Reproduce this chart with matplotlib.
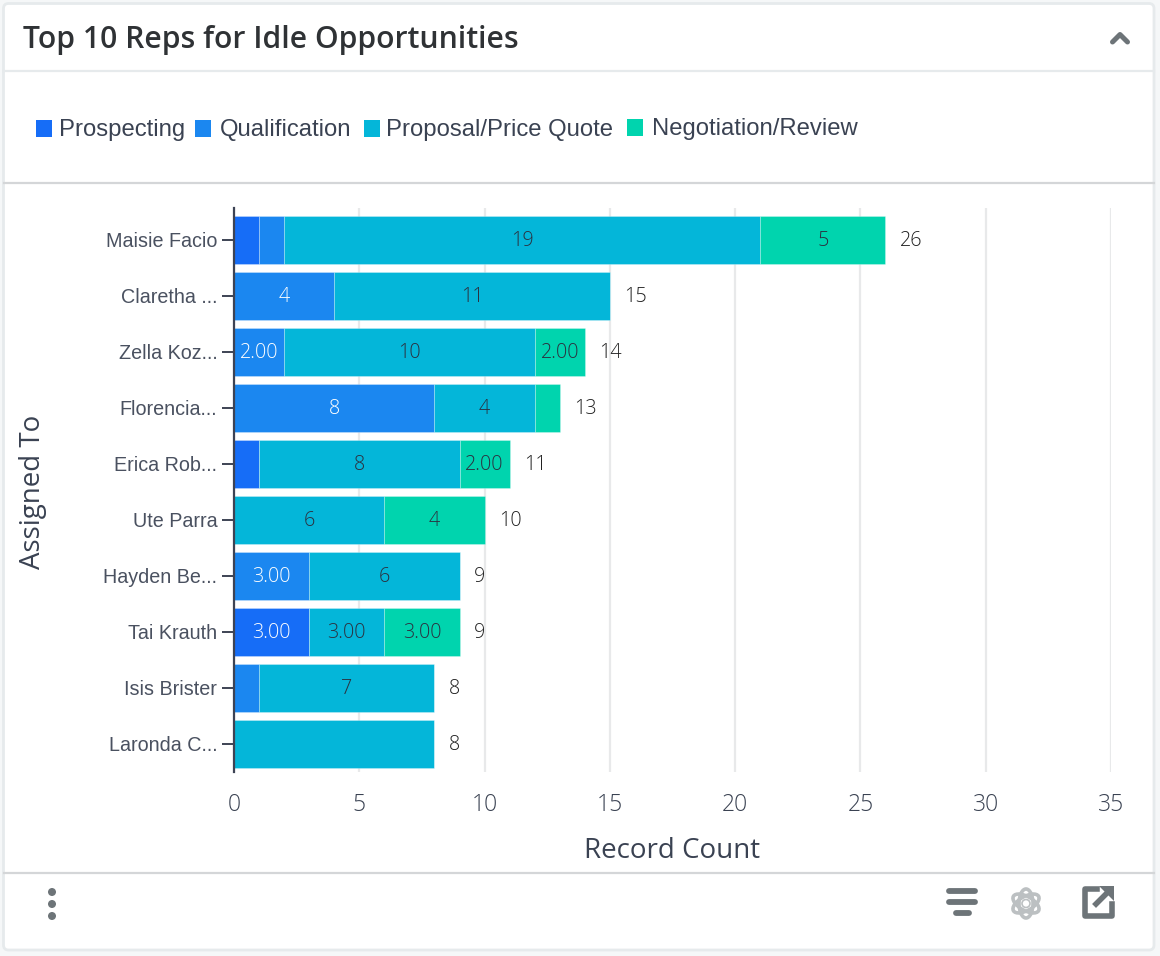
import matplotlib
matplotlib.use("Agg")
import matplotlib.pyplot as plt
from matplotlib.patches import FancyBboxPatch, Rectangle, Circle, Ellipse

reps = ["Maisie Facio", "Claretha ...", "Zella Koz...", "Florencia...", "Erica Rob...",
        "Ute Parra", "Hayden Be...", "Tai Krauth", "Isis Brister", "Laronda C..."]
stages = ["Prospecting", "Qualification", "Proposal/Price Quote", "Negotiation/Review"]
prospecting = [1, 0, 0, 0, 1, 0, 0, 3, 0, 0]
qualification = [1, 4, 2, 8, 0, 0, 3, 0, 1, 0]
proposal = [19, 11, 10, 4, 8, 6, 6, 3, 7, 8]
negotiation = [5, 0, 2, 1, 2, 4, 0, 3, 0, 0]

# segment labels as the dashboard prints them, blank where the segment is unlabelled
prospecting_labels = ["", "", "", "", "", "", "", "3.00", "", ""]
qualification_labels = ["", "4", "2.00", "8", "", "", "3.00", "", "", ""]
proposal_labels = ["19", "11", "10", "4", "8", "6", "6", "3.00", "7", ""]
negotiation_labels = ["5", "", "2.00", "", "2.00", "4", "", "3.00", "", ""]
totals = [26, 15, 14, 13, 11, 10, 9, 9, 8, 8]

colors = ["#166df7", "#1b87f0", "#04b6d9", "#00d4ae"]
label_colors = ["white", "white", "#2b3140", "#2b3140"]
text_dark = "#3a4252"
W, H = 1160, 956

fig = plt.figure(figsize=(W / 100, H / 100), dpi=100, facecolor="#f5f7f8")

# card and its dividers, laid out in pixels
bg = fig.add_axes([0, 0, 1, 1], zorder=0)
bg.set_xlim(0, W)
bg.set_ylim(H, 0)
bg.axis("off")
bg.add_patch(FancyBboxPatch((3.5, 3.5), 1150.5, 946.5, boxstyle="round,pad=0,rounding_size=5",
                            fc="white", ec="#e6eaec", lw=2))
bg.plot([4, 1154], [71, 71], color="#e6eaec", lw=1.6)
bg.plot([4, 1154], [183, 183], color="#d4d6d8", lw=1.6)
bg.plot([4, 1154], [873, 873], color="#d4d6d8", lw=1.6)
bg.text(23, 40, "Top 10 Reps for Idle Opportunities", fontsize=21.7, fontweight=600,
        family="Open Sans", color="#2f3235", ha="left", va="center")

# collapse chevron
bg.plot([1112.5, 1120, 1127.5], [42, 34.5, 42], color="#6d7478", lw=3.6, solid_capstyle="round",
        solid_joinstyle="round")

# legend
legend_x = [36, 195, 363.5, 627]
legend_text_x = [59, 220, 386, 651.5]
legend_y = [128, 128, 128, 127]
for x, tx, y, stage, c in zip(legend_x, legend_text_x, legend_y, stages, colors):
    bg.add_patch(Rectangle((x, y - 8), 16, 17, fc=c, ec="none"))
    bg.text(tx, y + 1.5, stage, fontsize=17.2, family="Liberation Sans", color=text_dark,
            ha="left", va="center")

# footer icons
for y in [892, 904, 916]:
    bg.add_patch(Circle((52, y), 4, fc="#6d7478", ec="none"))
for x0, x1, y, lw in [(949, 975, 891, 4.2), (949, 975, 902, 4.2), (956, 969, 912.5, 4.2)]:
    bg.plot([x0, x1], [y, y], color="#6d7478", lw=lw, solid_capstyle="round")
for angle in [90, 30, 150]:
    bg.add_patch(Ellipse((1026, 903.5), 29, 14, angle=angle, fc="none", ec="#bcc0c2", lw=2.6))
bg.add_patch(Circle((1026, 903.5), 4, fc="white", ec="#bcc0c2", lw=1.2))
bg.plot([1097, 1084.5, 1084.5, 1111.5, 1111.5], [888.5, 888.5, 915.5, 915.5, 904], color="#6d7478",
        lw=4, solid_joinstyle="round")
bg.plot([1096, 1110], [904, 890], color="#6d7478", lw=4)
bg.fill([1099, 1114, 1114], [886, 886, 901], color="#6d7478", lw=0)

# plot area: x=0 at 234 px, x=35 at 1111 px
left, right, top, bottom = 234, 1111, 208, 772
ax = fig.add_axes([left / W, 1 - bottom / H, (right - left) / W, (bottom - top) / H], zorder=1)
ax.patch.set_alpha(0)
ax.set_xlim(0, 35)
ax.set_ylim(9.5, -0.571)

positions = list(range(len(reps)))
series = [prospecting, qualification, proposal, negotiation]
series_labels = [prospecting_labels, qualification_labels, proposal_labels, negotiation_labels]
starts = [0] * len(reps)
for vals, labels, c, lc, stage in zip(series, series_labels, colors, label_colors, stages):
    bars = ax.barh(positions, vals, left=starts, height=48 / 56, color=c, edgecolor="#ffffff50",
                   linewidth=0.6, label=stage, zorder=3)
    for bar, lab in zip(bars, labels):
        if lab:
            ax.annotate(lab, (bar.get_x() + bar.get_width() / 2, bar.get_y() + bar.get_height() / 2),
                        xytext=(0, -1), textcoords="offset pixels", ha="center", va="center",
                        color=lc, fontsize=14.2, family="Open Sans", fontweight="light", zorder=4)
    starts = [s + v for s, v in zip(starts, vals)]

# stack totals to the right of each bar
for pos, total in zip(positions, totals):
    ax.annotate(str(total), (total, pos), xytext=(14.5, -1), textcoords="offset pixels",
                ha="left", va="center", color="#222222", fontsize=14.2, family="Open Sans",
                fontweight="light", zorder=4)

ax.set_xticks(range(0, 36, 5))
ax.xaxis.grid(True, color="#e8e9ea", lw=1.6, zorder=0)
ax.set_axisbelow(True)
for side in ["top", "right", "bottom"]:
    ax.spines[side].set_visible(False)
ax.spines["left"].set_color("#3d4354")
ax.spines["left"].set_linewidth(1.6)
ax.spines["left"].set_zorder(5)
ax.set_yticks(positions)
ax.set_yticklabels(reps, fontsize=14.2, family="Liberation Sans", color="#4a5160")
ax.tick_params(axis="y", length=9, width=1.4, color="#3d4354", pad=3)
ax.tick_params(axis="x", length=0, pad=15, labelsize=16.5, labelcolor=text_dark)
for t in ax.get_xticklabels():
    t.set_family("Open Sans")
    t.set_fontweight("light")

bg.text(672, 851, "Record Count", fontsize=20, family="Open Sans", color=text_dark,
        ha="center", va="center")
bg.text(33, 492, "Assigned To", fontsize=20, family="Open Sans", color=text_dark,
        ha="center", va="center", rotation=90)

fig.savefig("out.png", dpi=100, facecolor=fig.get_facecolor())
